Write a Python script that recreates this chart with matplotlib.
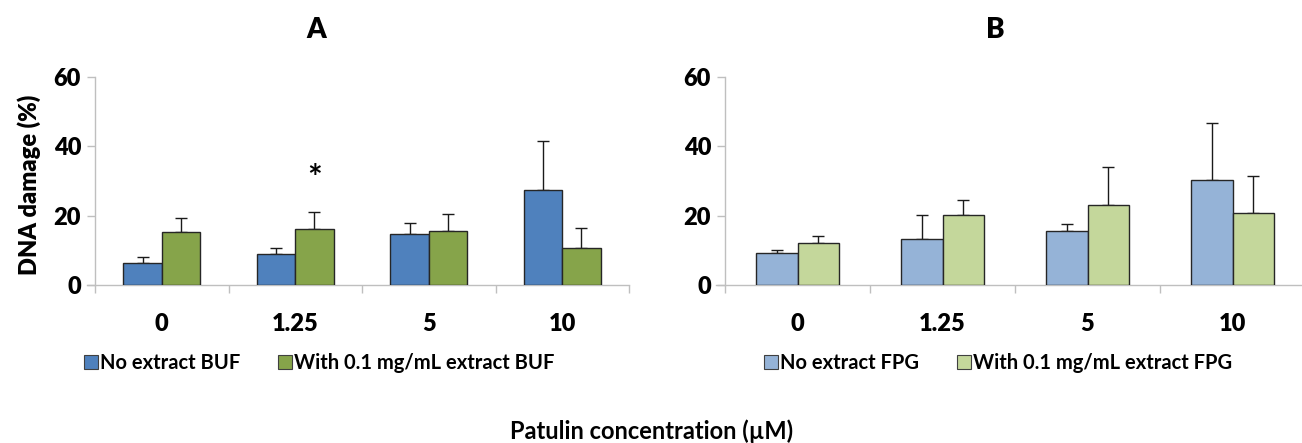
import numpy as np
import matplotlib
matplotlib.use("Agg")
import matplotlib.pyplot as plt
from matplotlib.patches import Patch

plt.rcParams['font.family'] = ['Lato', 'DejaVu Sans']
plt.rcParams['font.weight'] = 'bold'

concentrations = ["0", "1.25", "5", "10"]

# Panel A: BUF extract
buf_no_mean = [6.3, 8.9, 14.8, 27.5]
buf_no_sd = [1.75, 1.7, 3.0, 13.9]
buf_with_mean = [15.4, 16.2, 15.7, 10.8]
buf_with_sd = [3.9, 4.9, 4.9, 5.5]

# Panel B: FPG extract
fpg_no_mean = [9.2, 13.2, 15.5, 30.3]
fpg_no_sd = [1.0, 7.1, 2.0, 16.4]
fpg_with_mean = [12.2, 20.1, 23.1, 20.8]
fpg_with_sd = [1.8, 4.3, 10.8, 10.6]

yticks = [0, 20, 40, 60]
significant = {"A": [(1, 1)]}  # (category index, series index)

W, H = 1302, 443
fig = plt.figure(figsize=(W / 100, H / 100), dpi=100)

axis_grey = "#BFBFBF"


def panel(rect, means, sds, colors, labels, title, title_x, legend_x, stars=()):
    ax = fig.add_axes(rect)
    x = np.arange(len(concentrations))
    bw = 0.287
    offsets = [-bw / 2, bw / 2]
    for k, (m, s, c) in enumerate(zip(means, sds, colors)):
        pos = x + offsets[k]
        ax.bar(pos, m, width=bw, color=c, edgecolor="#262626", linewidth=1.0,
               zorder=3, label=labels[k])
        ax.errorbar(pos, m, yerr=[np.zeros(len(m)), s], fmt="none",
                    ecolor="#1a1a1a", elinewidth=1.0, capsize=4.5,
                    capthick=1.0, zorder=2)
    for ci, si in stars:
        top = means[si][ci] + sds[si][ci]
        ax.text(x[ci] + offsets[si], top + 9.5, "*", ha="center", va="center",
                fontsize=25, fontweight="bold")
    ax.set_xlim(-0.5, len(concentrations) - 0.5)
    ax.set_ylim(0, 60)
    ax.set_yticks(yticks)
    ax.set_yticklabels([str(v) for v in yticks], fontsize=17, fontweight="heavy")
    ax.set_xticks(x)
    ax.set_xticklabels(concentrations, fontsize=17, fontweight="heavy")
    ax.tick_params(axis="x", which="major", length=0, pad=20)
    ax.set_xticks(np.arange(-0.5, len(concentrations)), minor=True)
    ax.tick_params(axis="x", which="minor", length=6, color=axis_grey, width=1)
    ax.tick_params(axis="y", length=6, color=axis_grey, width=1, pad=4)
    for side in ["top", "right"]:
        ax.spines[side].set_visible(False)
    for side in ["left", "bottom"]:
        ax.spines[side].set_color(axis_grey)
        ax.spines[side].set_linewidth(1.0)
    ax.spines["bottom"].set_bounds(-0.5 - 0.06, len(concentrations) - 0.5)
    ax.spines["bottom"].set_clip_on(False)
    fig.text(title_x / W, 1 - 30 / H, title, ha="center", va="center",
             fontsize=20, fontweight="heavy")
    handles = [Patch(facecolor=c, edgecolor="#404040", linewidth=0.8) for c in colors]
    fig.legend(handles, labels, loc="center", bbox_to_anchor=(legend_x / W, 1 - 363 / H),
               ncol=2, frameon=False, handlelength=0.7, handleheight=0.7,
               handletextpad=0.12, columnspacing=1.85,
               prop={"weight": "bold", "size": 14.5})
    return ax


bottom = 1 - 285 / H
height = 208 / H
axA = panel([95 / W, bottom, 534 / W, height],
            [buf_no_mean, buf_with_mean], [buf_no_sd, buf_with_sd],
            ["#4F81BD", "#86A44A"],
            ["No extract BUF", "With 0.1 mg/mL extract BUF"],
            "A", 316, 319, stars=significant["A"])
axB = panel([725 / W, bottom, 580 / W, height],
            [fpg_no_mean, fpg_with_mean], [fpg_no_sd, fpg_with_sd],
            ["#95B3D7", "#C4D79B"],
            ["No extract FPG", "With 0.1 mg/mL extract FPG"],
            "B", 995, 998)

fig.text(29 / W, 1 - 185 / H, "DNA damage (%)", rotation=90, ha="center", va="center",
         fontsize=17, fontweight="heavy")
fig.text(652 / W, 1 - 431 / H, "Patulin concentration (\u00b5M)", ha="center", va="center",
         fontsize=17, fontweight="bold")

fig.savefig("out.png", dpi=100)
